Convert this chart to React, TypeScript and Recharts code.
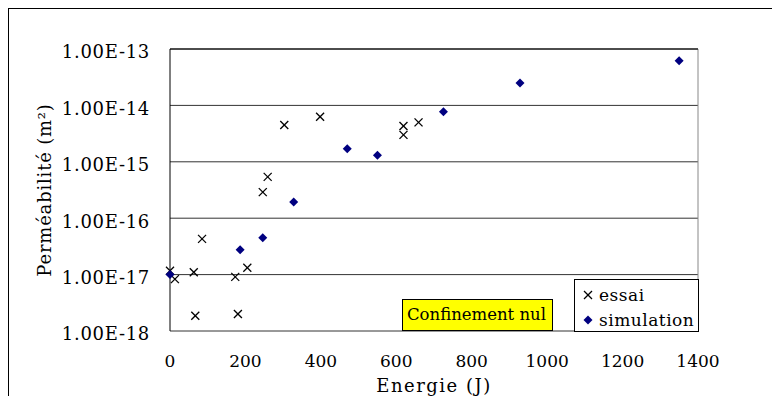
import { CartesianGrid, ReferenceLine, Scatter, ScatterChart, XAxis, YAxis } from 'recharts';

// Energie (J) / Perméabilité (m²)
const essaiEnergie = [0, 13, 63, 67, 85, 173, 180, 205, 246, 259, 303, 398, 619, 619, 659];
const essaiPerm = [
  1.17e-17, 8.3e-18, 1.1e-17, 1.86e-18, 4.3e-17, 9.1e-18, 2.0e-18, 1.32e-17, 2.9e-16, 5.4e-16,
  4.5e-15, 6.3e-15, 4.3e-15, 3.0e-15, 5.0e-15,
];
const simEnergie = [0, 186, 246, 328, 470, 550, 725, 928, 1350];
const simPerm = [1e-17, 2.75e-17, 4.5e-17, 1.94e-16, 1.7e-15, 1.3e-15, 7.7e-15, 2.5e-14, 6.2e-14];

const xTicks = [0, 200, 400, 600, 800, 1000, 1200, 1400];
const yTicks = [1e-18, 1e-17, 1e-16, 1e-15, 1e-14, 1e-13];

const FONT = '"DejaVu Serif", serif';
const SIM_COLOR = '#000080';

const essaiData = essaiEnergie.map((x, i) => ({ x, y: essaiPerm[i] }));
const simData = simEnergie.map((x, i) => ({ x, y: simPerm[i] }));

const fmtExp = (v: number) => `1.00E${Math.round(Math.log10(v))}`;

function CrossShape(props: any) {
  const { cx, cy } = props;
  const r = 4;
  return (
    <g stroke="#000" strokeWidth={1.3}>
      <line x1={cx - r} y1={cy - r} x2={cx + r} y2={cy + r} />
      <line x1={cx - r} y1={cy + r} x2={cx + r} y2={cy - r} />
    </g>
  );
}

function DiamondShape(props: any) {
  const { cx, cy } = props;
  const r = 4.5;
  return <polygon points={`${cx},${cy - r} ${cx + r},${cy} ${cx},${cy + r} ${cx - r},${cy}`} fill={SIM_COLOR} />;
}

export default function App() {
  return (
    <div style={{ position: 'relative', width: 772, height: 396, fontFamily: FONT, overflow: 'hidden' }}>
      <style>{'body{margin:0;overflow:hidden;background:#fff}'}</style>
      {/* outer chart frame (only top/left edges visible) */}
      <div
        style={{
          position: 'absolute',
          left: 8,
          top: 8,
          width: 800,
          height: 400,
          borderLeft: '1px solid #000',
          borderTop: '1px solid #000',
        }}
      />
      <ScatterChart width={772} height={396} margin={{ top: 48, right: 74, bottom: 5, left: 30 }}>
        <CartesianGrid horizontal vertical={false} stroke="#333" />
        <XAxis
          xAxisId="top"
          orientation="top"
          type="number"
          dataKey="x"
          domain={[0, 1400]}
          ticks={xTicks}
          height={1}
          tick={false}
          tickSize={6}
          stroke="#000"
        />
        <XAxis
          type="number"
          dataKey="x"
          domain={[0, 1400]}
          ticks={xTicks}
          height={60}
          axisLine={false}
          tickLine={false}
          tickMargin={18}
          tick={{ fontSize: 17, fill: '#000', fontFamily: FONT }}
          label={{
            value: 'Energie (J)',
            position: 'insideBottom',
            offset: -1,
            style: { fontSize: 18, fill: '#000', fontFamily: FONT, letterSpacing: 1.5 },
          }}
        />
        <YAxis
          type="number"
          dataKey="y"
          scale="log"
          domain={[1e-18, 1e-13]}
          allowDataOverflow
          ticks={yTicks}
          tickFormatter={fmtExp}
          width={140}
          tickLine={false}
          tickMargin={14}
          stroke="#000"
          tick={{ fontSize: 18, fill: '#000', fontFamily: FONT, letterSpacing: 0.7, dy: 3 }}
          label={{
            value: 'Perméabilité (m²)',
            angle: -90,
            position: 'insideLeft',
            offset: 15,
            style: { fontSize: 18, fill: '#000', fontFamily: FONT, letterSpacing: 0.8, textAnchor: 'middle' },
          }}
        />
        <ReferenceLine x={1400} stroke="#888" />
        <Scatter name="essai" data={essaiData} shape={CrossShape} isAnimationActive={false} />
        <Scatter name="simulation" data={simData} shape={DiamondShape} isAnimationActive={false} />
      </ScatterChart>

      {/* annotation */}
      <div
        style={{
          position: 'absolute',
          left: 402,
          top: 299,
          width: 151,
          height: 32,
          background: '#ffff00',
          border: '1px solid #000',
          fontSize: 16.5,
          lineHeight: '30px',
          paddingLeft: 4,
          boxSizing: 'border-box',
          whiteSpace: 'nowrap',
        }}
      >
        Confinement nul
      </div>

      {/* legend */}
      <div
        style={{
          position: 'absolute',
          left: 574,
          top: 279,
          width: 125,
          height: 53,
          background: '#fff',
          border: '1px solid #000',
          boxSizing: 'border-box',
          fontSize: 17,
          letterSpacing: 0.5,
        }}
      >
        {[
          { name: 'essai', shape: 'cross' },
          { name: 'simulation', shape: 'diamond' },
        ].map((item, i) => (
          <div
            key={item.name}
            style={{ position: 'absolute', left: 6, top: 4 + i * 25, height: 22, display: 'flex', alignItems: 'center' }}
          >
            <svg width={14} height={14} style={{ marginRight: 4 }}>
              {item.shape === 'cross' ? (
                <CrossShape cx={7} cy={7} />
              ) : (
                <DiamondShape cx={7} cy={7} />
              )}
            </svg>
            <span style={{ whiteSpace: 'nowrap' }}>{item.name}</span>
          </div>
        ))}
      </div>
    </div>
  );
}
